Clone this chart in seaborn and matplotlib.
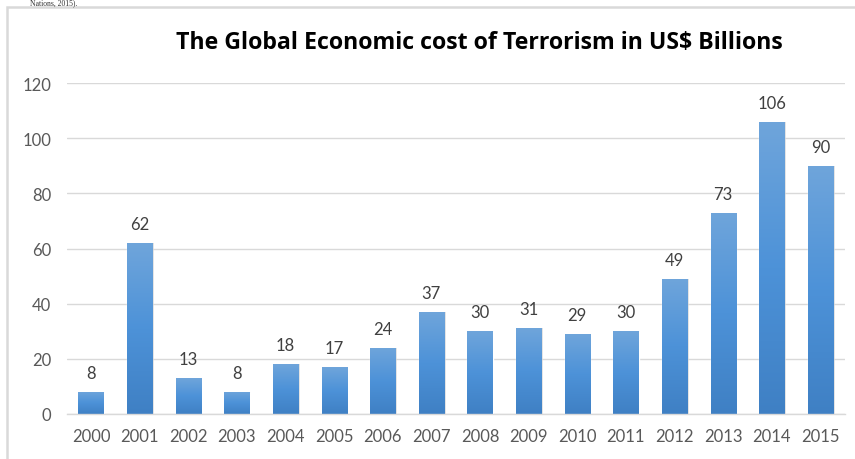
import numpy as np
import pandas as pd
import seaborn as sns
import matplotlib.pyplot as plt
from matplotlib.patches import Rectangle
from matplotlib.colors import LinearSegmentedColormap

# data
years = ['2000', '2001', '2002', '2003', '2004', '2005', '2006', '2007',
         '2008', '2009', '2010', '2011', '2012', '2013', '2014', '2015']
cost = [8, 62, 13, 8, 18, 17, 24, 37, 30, 31, 29, 30, 49, 73, 106, 90]
y_ticks = [0, 20, 40, 60, 80, 100, 120]

df = pd.DataFrame({'year': years, 'cost': cost})

sns.set_style('white')
plt.rcParams['font.family'] = ['Lato', 'DejaVu Sans']

fig = plt.figure(figsize=(8.55, 4.6), dpi=100)
ax = fig.add_axes([0.078, 0.098, 0.91, 0.719])

sns.barplot(data=df, x='year', y='cost', color='#5b9bd5', width=0.52,
            saturation=1, ax=ax, zorder=2)

# vertical gradient on each bar (lighter top, darker bottom)
cmap = LinearSegmentedColormap.from_list('bar', ['#3f80c4', '#4d92d8', '#6fa5db'])
grad = np.linspace(0, 1, 256).reshape(-1, 1)
for p in ax.patches:
    x0, y0 = p.get_x(), p.get_y()
    w, h = p.get_width(), p.get_height()
    # soft shadow
    ax.add_patch(Rectangle((x0 + 0.03, y0), w, h, facecolor='#c8c8c8',
                           edgecolor='none', alpha=0.6, zorder=1.5))
    im = ax.imshow(grad, cmap=cmap, aspect='auto', origin='lower',
                   extent=[x0, x0 + w, y0, y0 + h], zorder=2.5)
    im.set_clip_path(p)

for i, v in enumerate(cost):
    ax.annotate(str(v), (i, v), xytext=(0, 8), textcoords='offset points',
                ha='center', va='bottom', fontsize=12, color='#404040')

ax.set_xlim(-0.5, len(years) - 0.5)
ax.set_ylim(0, 120)
ax.set_yticks(y_ticks)
ax.yaxis.grid(True, color='#d9d9d9', lw=1)
ax.set_axisbelow(True)
for s in ['top', 'right', 'left']:
    ax.spines[s].set_visible(False)
ax.spines['bottom'].set_color('#d9d9d9')
ax.spines['bottom'].set_linewidth(1)
ax.tick_params(axis='both', length=0, labelsize=12, labelcolor='#595959')
ax.tick_params(axis='y', pad=11)
ax.tick_params(axis='x', pad=10)
ax.set_xlabel('')
ax.set_ylabel('')

fig.text(0.561, 0.907, 'The Global Economic cost of Terrorism in US$ Billions',
         ha='center', va='center', fontsize=16.7, fontweight='bold',
         family='Open Sans', color='black')

# frame around the chart (right and bottom edges fall outside the crop)
fig.patches.append(Rectangle((7 / 855, -0.1), 1.1, 1 - 8 / 460 + 0.1,
                             transform=fig.transFigure, fill=False,
                             edgecolor='#d9d9d9', lw=1.8))

# line of source text above the chart
fig.text(0.035, 0.993, 'Nations, 2015).', ha='left', va='center',
         fontsize=5.5, family='Liberation Serif', color='#333333')

fig.savefig('out.png', dpi=100)
